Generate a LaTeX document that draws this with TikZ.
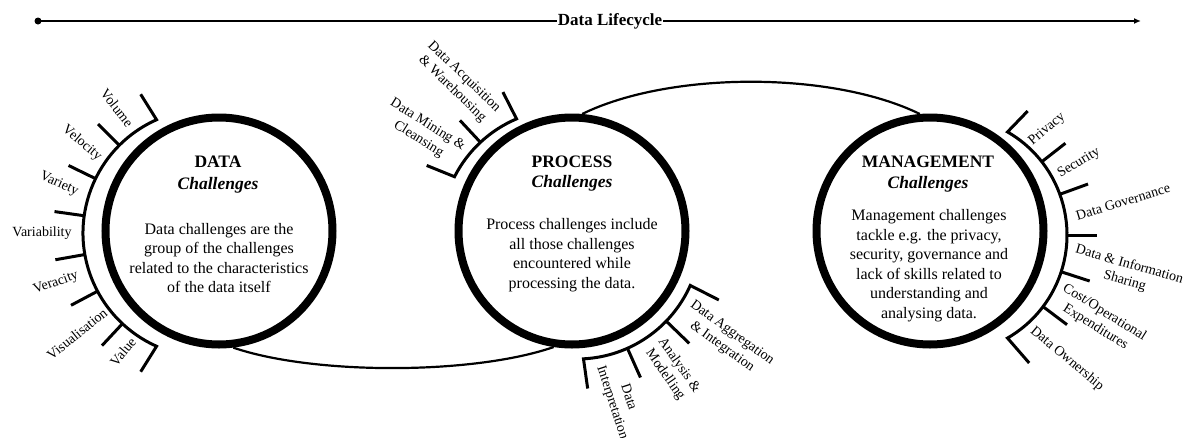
\documentclass[tikz,border=0pt]{standalone}
\usepackage{fontspec}
\setmainfont{Liberation Serif}
\usetikzlibrary{arrows.meta,calc}
\begin{document}
\begin{tikzpicture}[x=1pt,y=1pt,
  circ/.style={circle,draw,line width=8pt,minimum size=227pt,inner sep=0pt},
  head/.style={font=\fontsize{17.5}{20}\selectfont\bfseries,inner sep=0pt},
  headi/.style={font=\fontsize{17.5}{20}\selectfont\bfseries\itshape,inner sep=0pt},
  body/.style={font=\fontsize{16}{19.5}\selectfont,align=center,inner sep=0pt},
  lbl/.style={font=\fontsize{14}{17}\selectfont,align=center,inner sep=0pt},
  brk/.style={line width=3pt},
  link/.style={line width=2.2pt},
]
\useasboundingbox (0,0) rectangle (1184,-437);

% lifecycle axis
\coordinate (ls) at (38,-21);
\coordinate (le) at (1141,-21);
\node[font=\fontsize{17}{20}\selectfont\bfseries,fill=white,inner sep=1pt] (lt) at (610,-21) {Data Lifecycle};
\draw[line width=1.8pt] (ls) -- (lt.west);
\draw[line width=1.8pt,-{Latex[length=7pt,width=6pt]}] (lt.east) -- (le);
\fill (ls) circle (3.5pt);

% circles
\node[circ] (data) at (219,-231) {};
\node[circ] (process) at (572,-231) {};
\node[circ] (mgmt) at (930,-231) {};

% connecting curves
\draw[link] (data.-83) .. controls (313,-375) and (473,-375) .. (process.-99);
\draw[link] (process.85) .. controls (670,-71) and (832,-71) .. (mgmt.95);

% circle texts
\node[head] (dataT) at (218,-162) {DATA};
\node[headi] (dataC) at (218,-185) {Challenges};
\node[body] (dataB) at (219,-258) {Data challenges are the\\group of the challenges\\related to the characteristics\\of the data itself};

\node[head] (procT) at (572,-162) {PROCESS};
\node[headi] (procC) at (572,-183) {Challenges};
\node[body] (procB) at (572,-255) {Process challenges include\\all those challenges\\encountered while\\processing the data.};

\node[head] (mgmtT) at (928,-162) {MANAGEMENT};
\node[headi] (mgmtC) at (928,-184) {Challenges};
\node[body] (mgmtB) at (929,-265.5) {Management challenges\\tackle e.g. the privacy,\\security, governance and\\lack of skills related to\\understanding and\\analysing data.};

% DATA bracket
\coordinate (dc) at (207,-233);
\draw[brk] ($(dc)+(114:124)+(122:30)$) -- ($(dc)+(114:124)$) arc[start angle=114,end angle=246,radius=124] -- +(238:30);
\foreach \a in {135,154,172,190,208,227}
  \draw[brk] ($(dc)+(\a:124)$) -- ($(dc)+(\a:154)$);

% PROCESS brackets
\coordinate (pc1) at (565,-233);
\draw[brk] ($(pc1)+(113:124)+(117:30)$) -- ($(pc1)+(113:124)$) arc[start angle=113,end angle=153,radius=124] -- +(158:30);
\draw[brk] ($(pc1)+(133:124)$) -- ($(pc1)+(133:154)$);

\coordinate (pc2) at (577,-235);
\draw[brk] ($(pc2)+(-24:124)+(-27:32)$) -- ($(pc2)+(-24:124)$) arc[start angle=-24,end angle=-87,radius=124] -- +(-82:30);
\foreach \a in {-44,-66}
  \draw[brk] ($(pc2)+(\a:124)$) -- ($(pc2)+(\a:156)$);

% MANAGEMENT bracket
\coordinate (mc) at (948,-235);
\draw[brk] ($(mc)+(60:119)+(46:29)$) -- ($(mc)+(60:119)$) arc[start angle=60,end angle=-60,radius=119] -- +(-49:33);
\foreach \a in {38,20,0,-18,-37}
  \draw[brk] ($(mc)+(\a:119)$) -- ($(mc)+(\a:149)$);

% DATA labels
\node[lbl,rotate=-52] (lvol) at (117,-108) {Volume};
\node[lbl,rotate=-40] (lvel) at (82,-143) {Velocity};
\node[lbl,rotate=-24] (lvar) at (59,-184) {Variety};
\node[lbl] (lvab) at (42,-233) {Variability};
\node[lbl,rotate=20] (lver) at (56,-283) {Veracity};
\node[lbl,rotate=39] (lvis) at (77,-334) {Visualisation};
\node[lbl,rotate=50] (lval) at (123,-352) {Value};

% PROCESS labels
\node[lbl,rotate=-44] (lacq) at (458,-83) {Data Acquisition\\\& Warehousing};
\node[lbl,rotate=-32] (lmin) at (423,-132) {Data Mining \&\\Cleansing};
\node[lbl,rotate=-36] (lagg) at (727,-340) {Data Aggregation\\\& Integration};
\node[lbl,rotate=-55] (lana) at (672,-370) {Analysis \&\\Modelling};
\node[lbl,rotate=-72] (lint) at (620,-400) {Data\\Interpretation};

% MANAGEMENT labels
\node[lbl,rotate=40] (lpri) at (1047,-129) {Privacy};
\node[lbl,rotate=31] (lsec) at (1079,-163) {Security};
\node[lbl,rotate=17] (lgov) at (1123,-202) {Data Governance};
\node[lbl,rotate=-16] (lsha) at (1127,-273) {Data \& Information\\Sharing};
\node[lbl,rotate=-32] (lcos) at (1100,-320) {Cost/Operational\\Expenditures};
\node[lbl,rotate=-40] (lown) at (1067,-359) {Data Ownership};
\end{tikzpicture}
\end{document}
